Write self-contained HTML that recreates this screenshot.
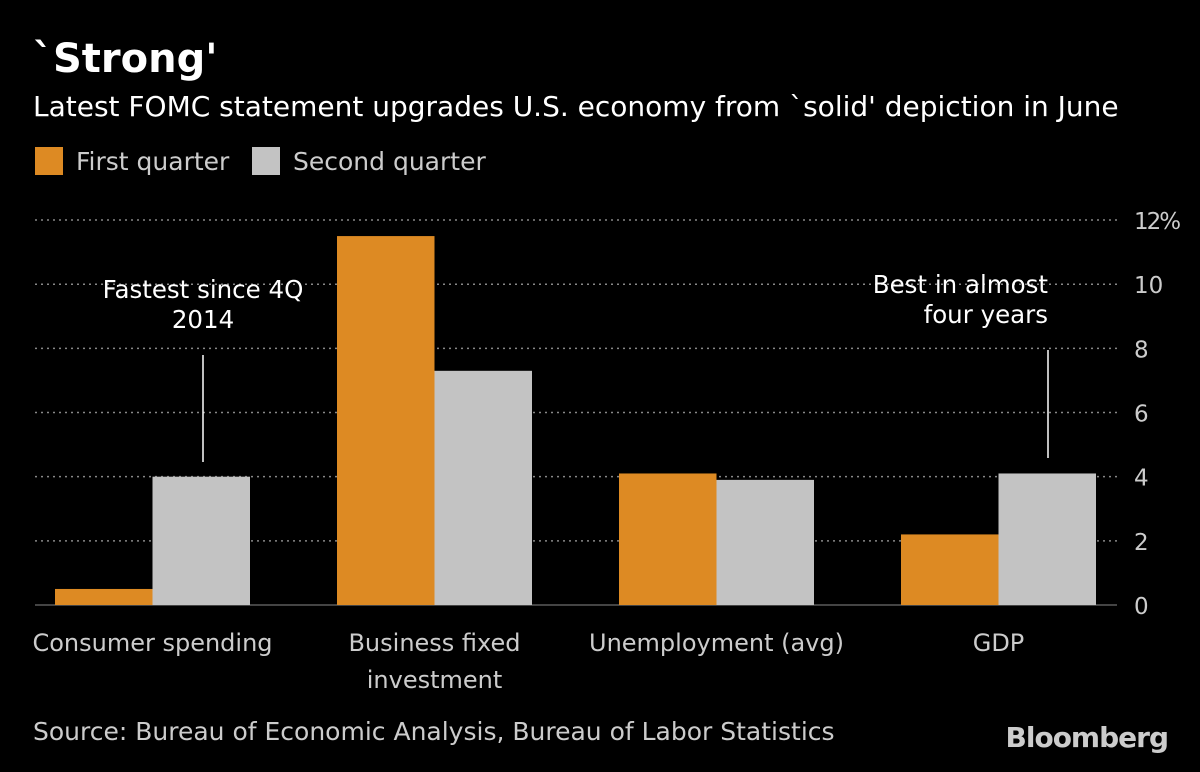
<!DOCTYPE html>
<html><head><meta charset="utf-8"><style>
body{margin:0;background:#000;width:1200px;height:768px;overflow:hidden;font-family:"DejaVu Sans","Liberation Sans",sans-serif;color:#fff}
svg text{font-family:"DejaVu Sans","Liberation Sans",sans-serif}
</style></head><body>
<svg width="1200" height="768" id="c">
<text x="33" y="72" font-size="40" font-weight="bold" fill="#fff">`Strong'</text>
<text x="33" y="116" font-size="28" fill="#fff">Latest FOMC statement upgrades U.S. economy from `solid' depiction in June</text>
<rect x="35" y="147" width="28" height="28" fill="#dd8a23"/>
<text x="76" y="170" font-size="25" fill="#ccc">First quarter</text>
<rect x="252" y="147" width="28" height="28" fill="#c3c3c3"/>
<text x="293" y="170" font-size="25" fill="#ccc">Second quarter</text>
<g id="grid"></g><g id="bars"></g>
<line x1="203" y1="355" x2="203" y2="462" stroke="#fff" stroke-width="1.5"/>
<text x="203" y="298" font-size="24.5" fill="#fff" text-anchor="middle"><tspan x="203">Fastest since 4Q</tspan><tspan x="203" dy="30">2014</tspan></text>
<line x1="1048" y1="350" x2="1048" y2="458" stroke="#fff" stroke-width="1.5"/>
<text x="1048" y="293" font-size="24.5" fill="#fff" text-anchor="end"><tspan x="1048">Best in almost</tspan><tspan x="1048" dy="30">four years</tspan></text>
<text x="33" y="740" font-size="25" fill="#ccc">Source: Bureau of Economic Analysis, Bureau of Labor Statistics</text>
<text x="1168" y="747" font-size="28" font-weight="bold" fill="#ccc" text-anchor="end" letter-spacing="-1">Bloomberg</text>
</svg>
<script>
const categories=["Consumer spending","Business fixed|investment","Unemployment (avg)","GDP"];
const q1=[0.5,11.5,4.1,2.2];
const q2=[4.0,7.3,3.9,4.1];
const ticks=[0,2,4,6,8,10,12];
const ns="http://www.w3.org/2000/svg";
const y=v=>605-v*32.08;
const gx=i=>55+i*282;
const bw=97.5;
function mk(t,a,p){const e=document.createElementNS(ns,t);for(const k in a)e.setAttribute(k,a[k]);p.appendChild(e);return e;}
const grid=document.getElementById('grid'),bars=document.getElementById('bars');
ticks.forEach(t=>{
 if(t>0){const l=mk('line',{x1:35,x2:1117,y1:y(t),y2:y(t),stroke:'#888','stroke-width':1.5,'stroke-dasharray':'2 4'},grid);
 
 }
 const tx=mk('text',{x:1134,y:y(t)+9,'font-size':23,fill:'#ccc'},grid);
 tx.textContent=t===12?'12%':String(t);
 if(t===12)tx.setAttribute('letter-spacing','-2');
 
 
});
const base=mk('line',{x1:35,x2:1117,y1:605,y2:605,stroke:'#888','stroke-width':1},grid);


categories.forEach((c,i)=>{
 const r1=mk('rect',{x:gx(i),y:y(q1[i]),width:bw,height:605-y(q1[i]),fill:'#dd8a23'},bars);
 
 
 const r2=mk('rect',{x:gx(i)+bw,y:y(q2[i]),width:bw,height:605-y(q2[i]),fill:'#c3c3c3'},bars);
 
 
 const t=mk('text',{x:gx(i)+bw,y:651,'font-size':24,fill:'#ccc','text-anchor':'middle'},bars);
 
 
 c.split('|').forEach((s,j)=>{const ts=mk('tspan',{x:gx(i)+bw,dy:j?37:0},t);ts.textContent=s;});
});
</script>
</body></html>
